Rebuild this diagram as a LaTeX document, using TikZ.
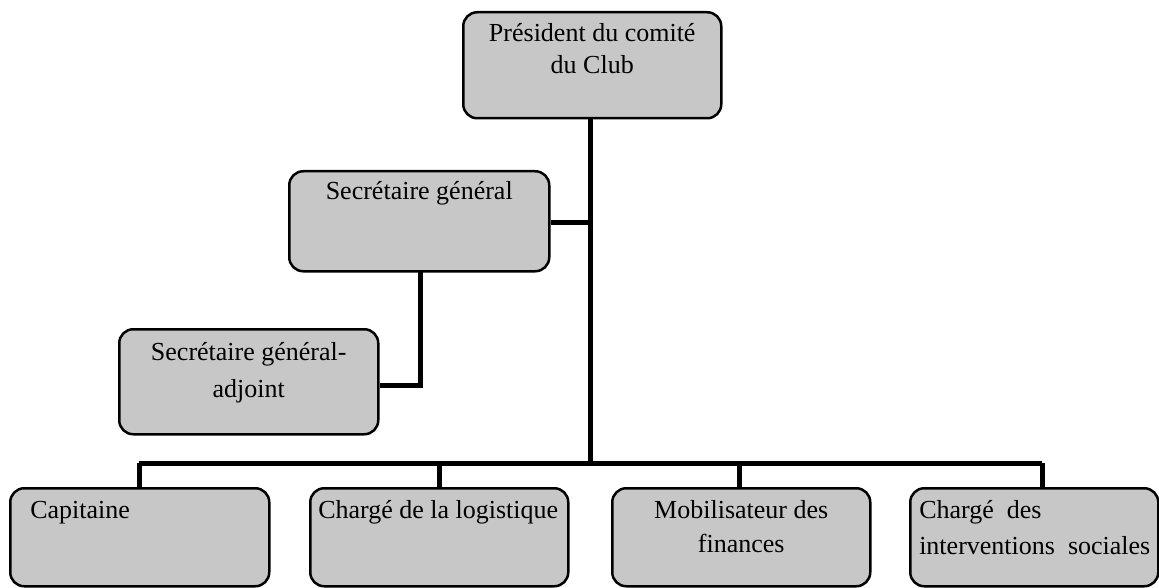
\documentclass[tikz,border=0pt]{standalone}
\usepackage{fontspec}
\setmainfont{Liberation Serif}
\newcommand\boxtxt[5]{\parbox[c][#2pt][t]{#1pt}{\fontsize{26}{#4}\selectfont#5\rule{0pt}{#3pt}}}
\begin{document}
\begin{tikzpicture}[x=1pt,y=-1pt,
  orgbox/.style={draw=black, line width=2.5pt, rounded corners=14pt, fill=black!22, inner sep=0pt, anchor=north west},
  conn/.style={line width=5pt}]
\useasboundingbox (0,0) rectangle (1159,588);
% boxes
\node[orgbox] (pres) at (462,11) {\boxtxt{258}{106}{29}{32}{\centering\rule{0pt}{29pt}Président du comité\\du Club}};
\node[orgbox] (sec) at (288,170) {\boxtxt{260}{100}{28}{32}{\centering\rule{0pt}{28pt}Secrétaire général}};
\node[orgbox] (adj) at (118,328) {\boxtxt{259}{105}{31}{29}{\centering\rule{0pt}{31pt}Secrétaire général-\\adjoint}};
\node[orgbox] (cap) at (9,487) {\boxtxt{259}{98}{30}{33}{\raggedright\rule{0pt}{30pt}\hspace*{20pt}Capitaine}};
\node[orgbox] (log) at (309,487) {\boxtxt{258}{98}{30}{33}{\raggedright\rule{0pt}{30pt}\hspace*{8pt}Chargé de la logistique}};
\node[orgbox] (fin) at (611,487) {\boxtxt{258}{98}{30}{34}{\centering\rule{0pt}{30pt}Mobilisateur des\\finances}};
\node[orgbox] (soc) at (909,487) {\boxtxt{248}{98}{30}{34}{\raggedright\rule{0pt}{30pt}\hspace*{9pt}Chargé\ \ des\\\hspace*{9pt}interventions\ \ sociales}};
% coordinates
\coordinate (trunk) at (590,117);
\coordinate (busmid) at (590,463);
\coordinate (busL) at (139,463);
\coordinate (busR) at (1042,463);
\coordinate (secdrop) at (420,270);
% connectors
\draw[conn] (trunk) -- (busmid);
\draw[conn] (sec.east |- 0,223) -- (trunk |- 0,223);
\draw[conn] (secdrop) |- (adj.east |- 0,385);
\draw[conn] (busL) -- (busR);
\draw[conn] (busL) -- (busL |- cap.north);
\draw[conn] (439,463) -- (439,487);
\draw[conn] (739,463) -- (739,487);
\draw[conn] (busR) -- (busR |- soc.north);
\end{tikzpicture}
\end{document}
